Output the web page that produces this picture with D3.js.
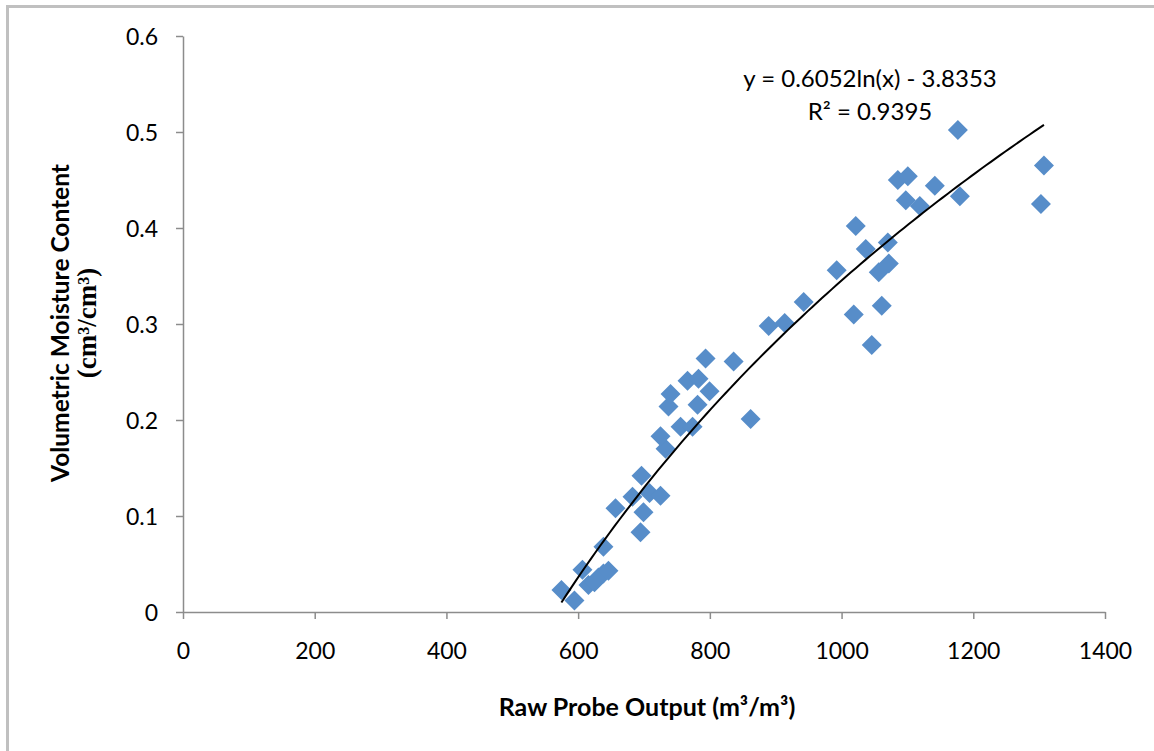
<!DOCTYPE html>
<html>
<head>
<meta charset="utf-8">
<script src="https://cdn.jsdelivr.net/npm/d3@7"></script>
<style>
  html, body { margin: 0; padding: 0; background: #fff; }
  svg { display: block; }
  .axis path, .axis line { stroke: #8c8c8c; stroke-width: 1.5; }
  .axis text { font-family: Lato, sans-serif; font-size: 23px; fill: #000; }
</style>
</head>
<body>
<svg id="chart"></svg>
<script>
// Raw probe output vs volumetric moisture content
const probeOutput = [574.6, 594.4, 606.5, 615.6, 624.8, 630.8, 638.4, 646.0, 638.4, 656.7,
  682.5, 696.2, 694.7, 699.2, 708.4, 725.1, 732.7, 725.1, 737.2, 740.3,
  755.5, 766.1, 773.7, 781.3, 782.8, 793.5, 799.6, 836.1, 861.9, 889.3,
  913.6, 942.5, 992.6, 1018.5, 1021.5, 1036.7, 1045.8, 1056.5, 1061.0, 1071.7,
  1070.2, 1085.4, 1100.6, 1097.5, 1118.8, 1141.6, 1176.6, 1179.6, 1302.7, 1307.3]
const moisture = [0.023, 0.012, 0.044, 0.028, 0.031, 0.036, 0.040, 0.043, 0.068, 0.108,
  0.120, 0.142, 0.083, 0.104, 0.124, 0.121, 0.170, 0.183, 0.214, 0.227,
  0.193, 0.241, 0.193, 0.216, 0.243, 0.264, 0.230, 0.261, 0.201, 0.298,
  0.301, 0.323, 0.356, 0.310, 0.402, 0.378, 0.278, 0.354, 0.319, 0.363,
  0.385, 0.450, 0.454, 0.429, 0.423, 0.444, 0.502, 0.433, 0.425, 0.465]

const xTicks = [0, 200, 400, 600, 800, 1000, 1200, 1400]
const yTicks = [0, 0.1, 0.2, 0.3, 0.4, 0.5, 0.6]

// logarithmic trendline y = a ln(x) + b, as printed on the chart
const trendA = 0.6052
const trendB = -3.8353
const trendR2 = 0.9395

const width = 1154
const height = 751
const svg = d3.select('#chart').attr('width', width).attr('height', height)

// outer chart frame
svg.append('rect')
  .attr('x', 7.5).attr('y', 6.5)
  .attr('width', width + 20).attr('height', height + 20)
  .attr('fill', '#fff')
  .attr('stroke', '#c0c0c0')
  .attr('stroke-width', 3)

const x = d3.scaleLinear().domain([0, 1400]).range([183, 1105])
const y = d3.scaleLinear().domain([0, 0.6]).range([612, 36])

svg.append('g')
  .attr('class', 'axis')
  .attr('transform', `translate(0,${y(0)})`)
  .call(d3.axisBottom(x).tickValues(xTicks).tickFormat(d => String(d)).tickSize(7).tickPadding(24).tickSizeOuter(0))

svg.append('g')
  .attr('class', 'axis')
  .attr('transform', `translate(${x(0)},0)`)
  .call(d3.axisLeft(y).tickValues(yTicks).tickFormat(d => String(d)).tickSize(7).tickPadding(18).tickSizeOuter(0))
  .selectAll('text').attr('dy', '0.36em')

// points (Excel-style diamonds)
const pts = probeOutput.map((v, i) => ({ x: v, y: moisture[i] }))
svg.append('g')
  .selectAll('path')
  .data(pts)
  .join('path')
  .attr('d', d3.symbol(d3.symbolSquare, 200))
  .attr('transform', d => `translate(${x(d.x)},${y(d.y)}) rotate(45)`)
  .attr('fill', '#578dc9')

// trendline
const [x0, x1] = d3.extent(probeOutput)
const trend = d3.range(0, 101).map(i => {
  const xv = x0 + (x1 - x0) * i / 100
  return { x: xv, y: trendA * Math.log(xv) + trendB }
})
svg.append('path')
  .datum(trend)
  .attr('fill', 'none')
  .attr('stroke', '#000')
  .attr('stroke-width', 2)
  .attr('d', d3.line().x(d => x(d.x)).y(d => y(d.y)))

// equation label
const eq = svg.append('g')
  .attr('font-family', 'Lato, sans-serif')
  .attr('font-size', 24)
  .attr('text-anchor', 'middle')
eq.append('text').attr('x', 870).attr('y', 87)
  .text(`y = ${trendA}ln(x) - ${Math.abs(trendB)}`)
eq.append('text').attr('x', 870).attr('y', 120)
  .text(`R² = ${trendR2}`)

// axis titles
svg.append('text')
  .attr('x', 647).attr('y', 716)
  .attr('text-anchor', 'middle')
  .attr('font-family', 'Lato, sans-serif')
  .attr('font-weight', 'bold')
  .attr('font-size', 25)
  .text('Raw Probe Output (m³/m³)')

const yt = svg.append('g').attr('transform', 'translate(0,323) rotate(-90)')
yt.append('text')
  .attr('x', 0).attr('y', 69)
  .attr('text-anchor', 'middle')
  .attr('font-family', 'Lato, sans-serif')
  .attr('font-weight', 'bold')
  .attr('font-size', 24.5)
  .text('Volumetric Moisture Content')
yt.append('text')
  .attr('x', 0).attr('y', 96)
  .attr('text-anchor', 'middle')
  .attr('font-family', '"Liberation Serif", serif')
  .attr('font-weight', 'bold')
  .attr('font-size', 27)
  .text('(cm³/cm³)')
</script>
</body>
</html>
